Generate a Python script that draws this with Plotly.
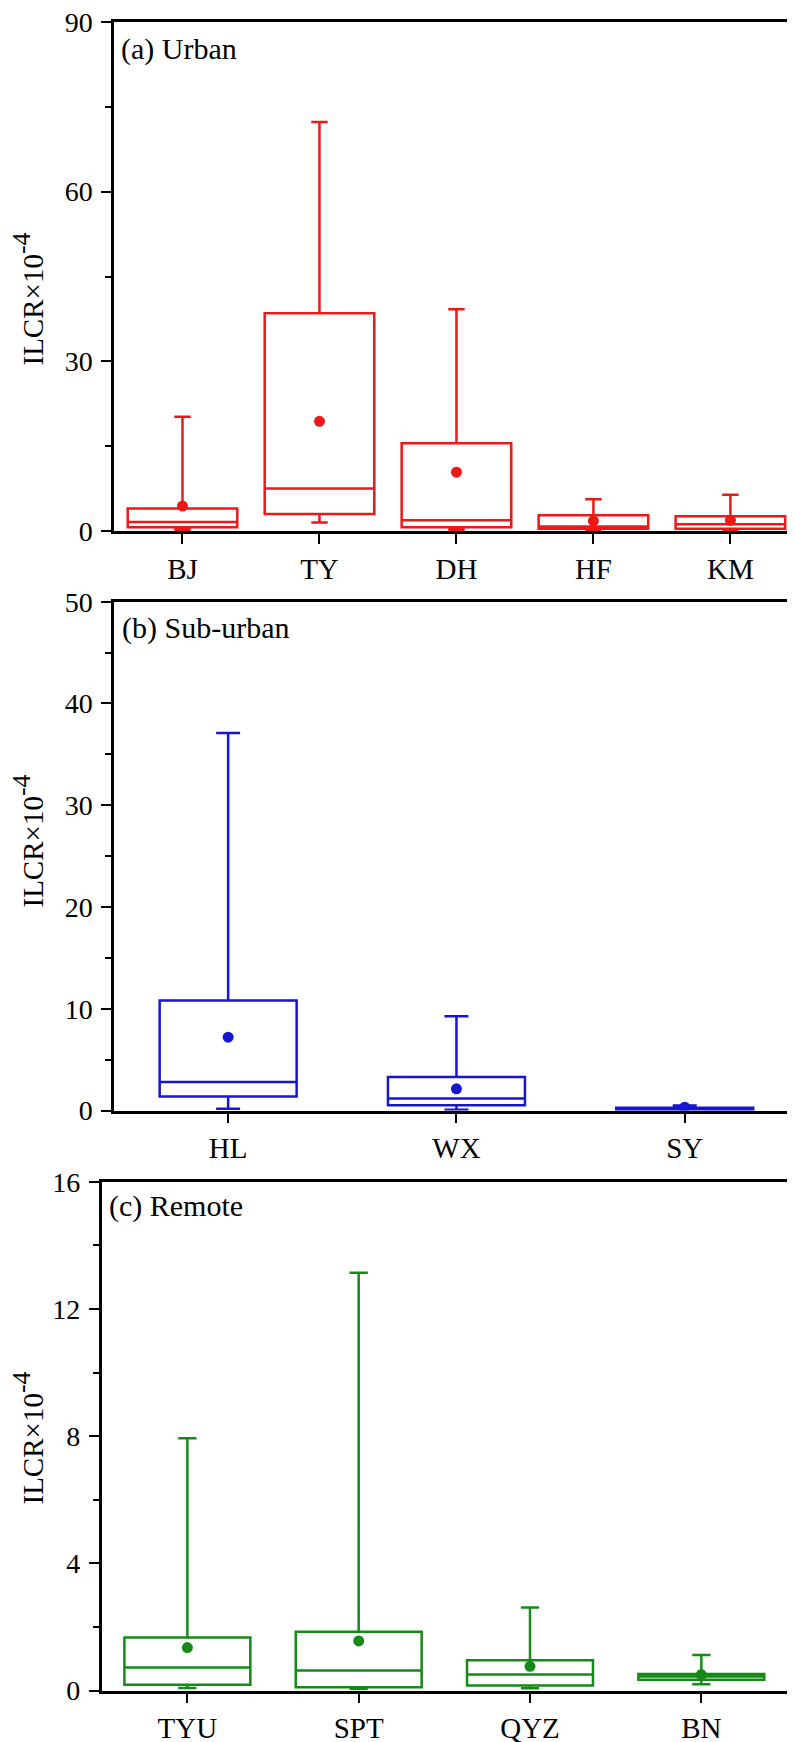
import plotly.graph_objects as go

# ---------------- data ----------------
urban_cats = ["BJ", "TY", "DH", "HF", "KM"]
urban_low = [0.2, 1.5, 0.2, 0.1, 0.2]
urban_q1 = [0.65, 3.0, 0.65, 0.4, 0.4]
urban_med = [1.6, 7.5, 1.9, 0.8, 1.2]
urban_q3 = [4.0, 38.5, 15.5, 2.8, 2.6]
urban_up = [20.2, 72.3, 39.2, 5.6, 6.4]
urban_mean = [4.4, 19.4, 10.4, 1.8, 1.9]

sub_cats = ["HL", "WX", "SY"]
sub_low = [0.16, 0.07, 0.03]
sub_q1 = [1.38, 0.52, 0.07]
sub_med = [2.8, 1.18, 0.16]
sub_q3 = [10.8, 3.28, 0.26]
sub_up = [37.1, 9.25, 0.5]
sub_mean = [7.2, 2.13, 0.33]

rem_cats = ["TYU", "SPT", "QYZ", "BN"]
rem_low = [0.08, 0.05, 0.07, 0.2]
rem_q1 = [0.18, 0.1, 0.16, 0.34]
rem_med = [0.72, 0.63, 0.5, 0.44]
rem_q3 = [1.67, 1.85, 0.95, 0.52]
rem_up = [7.93, 13.14, 2.61, 1.12]
rem_mean = [1.35, 1.56, 0.76, 0.5]

panel_labels = ["(a) Urban", "(b) Sub-urban", "(c) Remote"]
y_title = "ILCR×10<sup><span style='font-size:26px'>-4</span></sup>"

# ---------------- layout geometry ----------------
W, H = 795, 1742
OFF = 8  # page body margin in the browser
FONT = "Liberation Serif, Times New Roman, serif"
RED, BLUE, GREEN = "#ee1818", "#1616d0", "#168a16"

def fy(px):
    return 1 - (px - OFF) / H

def fx(px):
    return (px - OFF) / W

panels = [
    dict(cats=urban_cats, low=urban_low, q1=urban_q1, med=urban_med, q3=urban_q3, up=urban_up,
         mean=urban_mean, color=RED, xdom=[fx(114), 1.0], ydom=[fy(531), fy(22)],
         xrange=[-0.5, 4.53], yrange=[0, 90], dtick=30, minor=15, width=0.80, ww=0.15,
         mirror_y=False, label_x=119, label_y=49, title_y=299.5),
    dict(cats=sub_cats, low=sub_low, q1=sub_q1, med=sub_med, q3=sub_q3, up=sub_up,
         mean=sub_mean, color=BLUE, xdom=[fx(114), 1.0], ydom=[fy(1110.5), fy(601.7)],
         xrange=[-0.5, 2.518], yrange=[0, 50], dtick=10, minor=5, width=0.60, ww=0.175,
         mirror_y=False, label_x=120, label_y=628, title_y=841.5),
    dict(cats=rem_cats, low=rem_low, q1=rem_q1, med=rem_med, q3=rem_q3, up=rem_up,
         mean=rem_mean, color=GREEN, xdom=[fx(101.7), fx(787)], ydom=[fy(1690.5), fy(1181.7)],
         xrange=[-0.5, 3.5], yrange=[0, 16], dtick=4, minor=2, width=0.735, ww=0.145,
         mirror_y=True, label_x=107, label_y=1206, title_y=1438.5),
]

fig = go.Figure()
annotations = []
for i, p in enumerate(panels):
    sfx = "" if i == 0 else str(i + 1)
    xa, ya = "x" + sfx, "y" + sfx
    fig.add_trace(go.Box(
        x=p["cats"], q1=p["q1"], median=p["med"], q3=p["q3"],
        lowerfence=p["low"], upperfence=p["up"],
        width=p["width"], whiskerwidth=p["ww"],
        line=dict(color=p["color"], width=2.5), fillcolor="rgba(0,0,0,0)",
        boxpoints=False, xaxis=xa, yaxis=ya, showlegend=False, hoverinfo="skip",
    ))
    fig.add_trace(go.Scatter(
        x=p["cats"], y=p["mean"], mode="markers",
        marker=dict(color=p["color"], size=11, line=dict(width=0)),
        xaxis=xa, yaxis=ya, showlegend=False, hoverinfo="skip",
    ))
    fig.layout["xaxis" + sfx] = dict(
        domain=p["xdom"], anchor=ya, type="category", range=p["xrange"],
        showline=True, linecolor="black", linewidth=2.5, mirror=True,
        ticks="outside", ticklen=10, tickwidth=2, tickcolor="black",
        tickfont=dict(family=FONT, size=29, color="black"),
        ticklabeloverflow="allow",
        showgrid=False, zeroline=False, fixedrange=True, automargin=False,
    )
    fig.layout["yaxis" + sfx] = dict(
        domain=p["ydom"], anchor=xa, range=p["yrange"], dtick=p["dtick"], tick0=0,
        showline=True, linecolor="black", linewidth=2.5, mirror=p["mirror_y"],
        ticks="outside", ticklen=10, tickwidth=2, tickcolor="black",
        minor=dict(dtick=p["minor"], tick0=0, ticks="outside", ticklen=6, tickwidth=2, tickcolor="black"),
        tickfont=dict(family=FONT, size=28, color="black"),
        ticklabeloverflow="allow", ticklabelstandoff=3,
        showgrid=False, zeroline=False, fixedrange=True, automargin=False,
    )
    annotations.append(dict(
        text=panel_labels[i], xref="paper", yref="paper", x=fx(p["label_x"]), y=fy(p["label_y"]),
        xanchor="left", yanchor="middle", showarrow=False,
        font=dict(family=FONT, size=30, color="black"),
    ))
    annotations.append(dict(
        text=y_title, xref="paper", yref="paper", x=fx(28), y=fy(p["title_y"]),
        xanchor="center", yanchor="middle", textangle=-90, showarrow=False,
        font=dict(family=FONT, size=29, color="black"),
    ))

fig.update_layout(
    width=W, height=H, margin=dict(l=0, r=0, t=0, b=0),
    paper_bgcolor="white", plot_bgcolor="white",
    annotations=annotations, showlegend=False,
)

fig.write_html("out.html")
